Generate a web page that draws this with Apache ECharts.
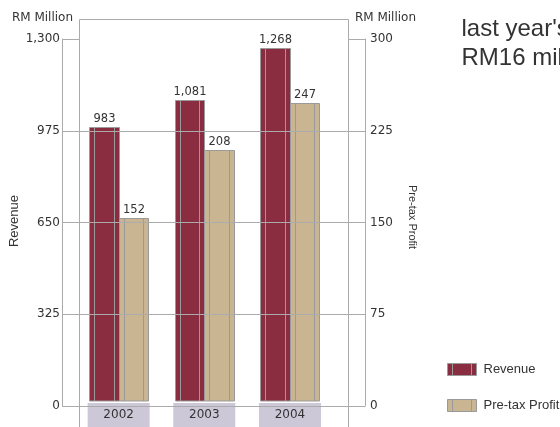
<!DOCTYPE html>
<html>
<head>
<meta charset="utf-8">
<script src="https://cdn.jsdelivr.net/npm/echarts@6/dist/echarts.min.js"></script>
<style>
html,body{margin:0;padding:0;background:#fff;}
#chart{width:560px;height:427px;}
</style>
</head>
<body>
<div id="chart"></div>
<script>
// ---- data ----
const categories = ['2002', '2003', '2004'];
const revenue = [983, 1081, 1268];
const profit = [152, 208, 247];
const revenueAxis = [0, 1300, 325];   // min, max, interval
const profitAxis = [0, 300, 75];
const seriesNames = ['Revenue', 'Pre-tax Profit'];
const axisUnit = 'RM Million';

// ---- style ----
const REV_COLOR = '#8b2d41';
const PROFIT_COLOR = '#c9b592';
const EDGE = '#9a9a9a';
const LINE = '#ababab';
const TXT = '#333';
const NUM_FONT = 'DejaVu Sans';
const SANS = 'Liberation Sans';
const BW = 29.5;

const chart = echarts.init(document.getElementById('chart'), null, {renderer: 'canvas'});

function fmt(v) { return v.toLocaleString('en-US'); }

function makeRender(side) {
  return function (params, api) {
    const idx = api.value(0);
    const v = api.value(1);
    const top = api.coord([idx, v]);
    const base = api.coord([idx, 0]);
    const c = top[0];
    const x0 = side === 'left' ? c - BW : c;
    const xa = Math.round(x0) + 0.5;
    const xb = Math.round(x0 + BW) + 0.5;
    const yt = Math.round(top[1]) + 0.5;
    const yb = base[1];
    return {
      type: 'group',
      children: [
        {type: 'rect', shape: {x: xa, y: yt, width: xb - xa, height: yb - yt},
         style: {fill: api.visual('color'), stroke: EDGE, lineWidth: 1}},
        {type: 'line', shape: {x1: xa + 5, y1: yt, x2: xa + 5, y2: yb},
         style: {stroke: EDGE, lineWidth: 1}},
        {type: 'line', shape: {x1: xb - 5, y1: yt, x2: xb - 5, y2: yb},
         style: {stroke: EDGE, lineWidth: 1}},
        {type: 'text', style: {text: fmt(v), x: (xa + xb) / 2, y: yt - 8.5,
          align: 'center', verticalAlign: 'middle',
          font: '11.5px "' + NUM_FONT + '"', fill: TXT}}
      ]
    };
  };
}

const yCommon = {
  type: 'value',
  axisLine: {show: true, lineStyle: {color: LINE, width: 1}},
  axisTick: {show: true, inside: true, length: 17, lineStyle: {color: LINE}},
  axisLabel: {color: TXT, fontFamily: NUM_FONT, fontSize: 12,
    formatter: function (v) { return fmt(v); }},
  z: 5
};

const option = {
  animation: false,
  backgroundColor: '#fff',
  grid: [
    {left: 62, top: 39, width: 303, bottom: 21, containLabel: false},
    {left: 75.8, top: 39, width: 257, bottom: 21, containLabel: false}
  ],
  xAxis: [
    {type: 'category', gridIndex: 0, data: categories, show: false},
    {type: 'category', gridIndex: 1, data: categories,
     axisLine: {show: false}, axisTick: {show: false},
     axisLabel: {margin: 2, formatter: function (v) { return '{b|' + v + '}'; },
       rich: {b: {width: 62, height: 24, lineHeight: 24, align: 'center',
         backgroundColor: '#ccc8d7', color: TXT, fontFamily: NUM_FONT, fontSize: 12}}}}
  ],
  yAxis: [
    Object.assign({}, yCommon, {
      gridIndex: 0, position: 'left',
      min: revenueAxis[0], max: revenueAxis[1], interval: revenueAxis[2],
      axisLabel: Object.assign({}, yCommon.axisLabel, {margin: 2}),
      splitLine: {show: true, showMaxLine: false, lineStyle: {color: LINE, width: 1}},
      name: axisUnit, nameLocation: 'end', nameGap: 15,
      nameTextStyle: {color: TXT, fontFamily: NUM_FONT, fontSize: 12, padding: [0, 39, 0, 0]}
    }),
    Object.assign({}, yCommon, {
      gridIndex: 0, position: 'right',
      min: profitAxis[0], max: profitAxis[1], interval: profitAxis[2],
      axisLabel: Object.assign({}, yCommon.axisLabel, {margin: 5}),
      splitLine: {show: false},
      name: axisUnit, nameLocation: 'end', nameGap: 15,
      nameTextStyle: {color: TXT, fontFamily: NUM_FONT, fontSize: 12, padding: [0, 0, 0, 41]}
    }),
    {type: 'value', gridIndex: 1, min: revenueAxis[0], max: revenueAxis[1], interval: revenueAxis[2], show: false},
    {type: 'value', gridIndex: 1, min: profitAxis[0], max: profitAxis[1], interval: profitAxis[2], show: false}
  ],
  legend: {
    orient: 'vertical', left: 442, top: 358, itemWidth: 29, itemHeight: 12, itemGap: 23,
    icon: 'path://M0,0L29,0L29,12L0,12Z M5,0L5,12 M24,0L24,12',
    itemStyle: {borderColor: EDGE, borderWidth: 1},
    textStyle: {color: TXT, fontFamily: SANS, fontSize: 13, padding: [0, 0, 0, 2]},
    data: seriesNames
  },
  graphic: [
    {type: 'rect', z: 1, shape: {x: 79.5, y: 19.5, width: 269, height: 420},
     style: {fill: 'none', stroke: LINE, lineWidth: 1}},
    {type: 'text', x: 14.5, y: 221, rotation: Math.PI / 2,
     style: {text: seriesNames[0], align: 'center', verticalAlign: 'middle',
       font: '13px "' + SANS + '"', fill: TXT}},
    {type: 'text', x: 412, y: 217, rotation: -Math.PI / 2,
     style: {text: seriesNames[1], align: 'center', verticalAlign: 'middle',
       font: '11px "' + SANS + '"', fill: TXT}},
    {type: 'text', x: 461.5, y: 17.5,
     style: {text: "last year's", align: 'left', verticalAlign: 'alphabetic',
       font: '24px "' + SANS + '"', fill: TXT}},
    {type: 'text', x: 461.5, y: 46.7,
     style: {text: 'RM16 million', align: 'left', verticalAlign: 'alphabetic',
       font: '24px "' + SANS + '"', fill: TXT}}
  ],
  series: [
    {name: seriesNames[0], type: 'custom', xAxisIndex: 1, yAxisIndex: 2, z: 2,
     itemStyle: {color: REV_COLOR}, renderItem: makeRender('left'),
     data: categories.map(function (c, i) { return [i, revenue[i]]; })},
    {name: seriesNames[1], type: 'custom', xAxisIndex: 1, yAxisIndex: 3, z: 2,
     itemStyle: {color: PROFIT_COLOR}, renderItem: makeRender('right'),
     data: categories.map(function (c, i) { return [i, profit[i]]; })}
  ]
};
chart.setOption(option);
</script>
</body>
</html>
